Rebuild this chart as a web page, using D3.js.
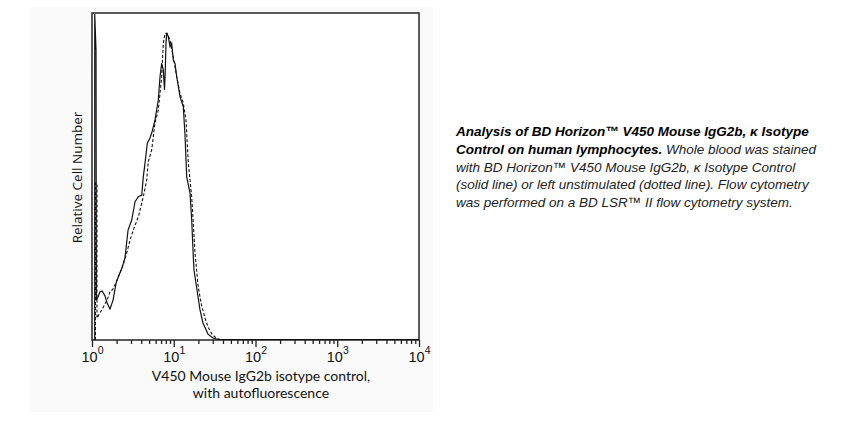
<!DOCTYPE html>
<html><head><meta charset="utf-8">
<script src="https://cdn.jsdelivr.net/npm/d3@7"></script>
<style>body{margin:0;background:#fff;} svg{display:block}</style>
</head><body>
<svg id="c" width="856" height="422"></svg>
<script>
// ---- data ----
const xDomain = [1, 10000];
const yDomain = [0, 100];
const majorTicks = [1, 10, 100, 1000, 10000];
const majorExponents = ["0", "1", "2", "3", "4"];
const xTitleLines = ["V450 Mouse IgG2b isotype control,", "with autofluorescence"];
const yTitle = "Relative Cell Number";

// solid line: V450 Mouse IgG2b isotype control
const solidIntensity = [1.08, 1.08, 1.12, 1.13, 1.18, 1.25, 1.33, 1.44, 1.53, 1.66, 1.81, 1.97, 2.14, 2.33, 2.53, 2.76, 3.06, 3.36, 3.69, 4.06, 4.24, 4.45, 4.75, 5.12, 5.42, 5.90, 6.47, 6.79, 7.12, 7.45, 7.71, 7.88, 8.04, 8.20, 8.58, 9.00, 9.44, 9.87, 10.36, 10.87, 11.93, 13.09, 13.73, 14.40, 15.81, 16.58, 17.34, 17.69, 19.25, 20.95, 22.80, 26.24, 30.21, 34.77, 10000];
const solidCount     = [0, 99.7, 88.7, 12.2, 13.1, 14.7, 15.0, 13.5, 11.3, 9.5, 12.2, 17.4, 19.9, 22.0, 25.1, 33.6, 36.7, 42.3, 43.8, 44.3, 49.9, 54.1, 60.2, 61.8, 63.6, 67.3, 73.4, 80.5, 84.6, 82.6, 76.5, 82.6, 90.8, 93.9, 92.8, 89.7, 90.7, 85.6, 84.6, 80.5, 74.4, 71.3, 62.7, 49.9, 45.0, 36.7, 25.5, 21.4, 15.3, 9.2, 5.2, 1.8, 0.6, 0.15, 0.15];

// dotted line: unstained
const dashedIntensity = [1.10, 1.10, 1.15, 1.15, 1.25, 1.36, 1.53, 1.66, 1.81, 2.02, 2.20, 2.39, 2.66, 2.92, 3.20, 3.69, 4.24, 4.67, 4.88, 5.37, 5.90, 6.47, 7.12, 7.45, 7.82, 8.27, 9.00, 9.87, 10.87, 11.93, 13.09, 14.12, 15.07, 16.58, 17.34, 18.20, 19.80, 21.54, 24.12, 26.24, 29.37, 32.87, 36.79, 10000];
const dashedCount     = [0, 48.0, 48.0, 6.7, 8.3, 9.8, 12.2, 14.7, 15.6, 18.3, 20.5, 22.9, 26.6, 30.6, 33.6, 37.7, 43.8, 48.9, 54.5, 58.1, 66.4, 70.3, 80.5, 90.7, 93.8, 93.8, 91.7, 86.6, 80.5, 75.4, 72.4, 67.3, 54.1, 43.8, 35.8, 26.6, 16.8, 11.3, 6.7, 4.0, 1.8, 0.6, 0.15, 0.15];

const captionLines = [
  [{t: "Analysis of BD Horizon\u2122 V450 Mouse IgG2b, \u03BA Isotype", b: true}],
  [{t: "Control on human lymphocytes.", b: true}, {t: " Whole blood was stained", b: false}],
  [{t: "with BD Horizon\u2122 V450 Mouse IgG2b, \u03BA Isotype Control", b: false}],
  [{t: "(solid line) or left unstimulated (dotted line). Flow cytometry", b: false}],
  [{t: "was performed on a BD LSR\u2122 II flow cytometry system.", b: false}]
];

// ---- drawing ----
const svg = d3.select("#c");
const plot = {left: 92, right: 419, top: 13, bottom: 340};

svg.append("rect").attr("x", 30).attr("y", 7).attr("width", 403).attr("height", 405).attr("fill", "#fafafa");

const x = d3.scaleLog().domain(xDomain).range([plot.left, plot.right]);
const y = d3.scaleLinear().domain(yDomain).range([plot.bottom, plot.top]);

// frame
svg.append("rect")
  .attr("x", plot.left).attr("y", plot.top)
  .attr("width", plot.right - plot.left).attr("height", plot.bottom - plot.top)
  .attr("fill", "#fff").attr("stroke", "#333").attr("stroke-width", 1.6);

const line = d3.line().x((d) => x(d[0])).y((d) => y(d[1]));

const dashedData = dashedIntensity.map((v, i) => [v, dashedCount[i]]);
const solidData = solidIntensity.map((v, i) => [v, solidCount[i]]);

svg.append("path").datum(dashedData).attr("d", line)
  .attr("fill", "none").attr("stroke", "#111").attr("stroke-width", 1.1)
  .attr("stroke-dasharray", "3,2");
svg.append("path").datum(solidData).attr("d", line)
  .attr("fill", "none").attr("stroke", "#111").attr("stroke-width", 1.2);

// axis ticks
const minorTicks = x.ticks().filter((v) => !majorTicks.includes(v));
const gMinor = svg.append("g").attr("transform", `translate(0,${plot.bottom})`)
  .call(d3.axisBottom(x).tickValues(minorTicks).tickSize(4).tickFormat(""));
const gMajor = svg.append("g").attr("transform", `translate(0,${plot.bottom})`)
  .call(d3.axisBottom(x).tickValues(majorTicks).tickSize(7).tickFormat(""));
[gMinor, gMajor].forEach((g) => {
  g.select(".domain").remove();
  g.selectAll(".tick line").attr("stroke", "#222").attr("stroke-width", 1.3);
});

// tick labels with superscripts
gMajor.selectAll(".tick").each(function (d, i) {
  const t = d3.select(this).append("text")
    .attr("y", 21.5).attr("fill", "#111")
    .attr("font-family", "Liberation Sans, Arial, sans-serif")
    .attr("font-size", 14.5).attr("text-anchor", "middle");
  t.append("tspan").text("10");
  t.append("tspan").attr("dy", -7.5).attr("font-size", 10.5).text(majorExponents[i]);
});

// axis titles
svg.append("g").selectAll("text").data(xTitleLines).join("text")
  .attr("x", 261).attr("y", (d, i) => 381 + i * 17)
  .attr("text-anchor", "middle")
  .attr("font-family", "Lato, Open Sans, sans-serif")
  .attr("font-size", 14).attr("fill", "#111").text((d) => d);

svg.append("text")
  .attr("transform", `translate(82,${(plot.top + plot.bottom) / 2 + 1}) rotate(-90)`)
  .attr("text-anchor", "middle")
  .attr("font-family", "Open Sans, Noto Sans, sans-serif")
  .attr("font-size", 13.5).attr("fill", "#111").text(yTitle);

// caption
const cap = svg.append("g").attr("font-family", "Liberation Sans, Arial, sans-serif").attr("font-size", 13.5);
captionLines.forEach((segs, i) => {
  const t = cap.append("text").attr("x", 456).attr("y", 136 + i * 17.8).attr("font-style", "italic");
  segs.forEach((s) => {
    t.append("tspan").attr("font-weight", s.b ? "bold" : "normal")
      .attr("fill", s.b ? "#000" : "#222").text(s.t);
  });
});
</script>
</body></html>
